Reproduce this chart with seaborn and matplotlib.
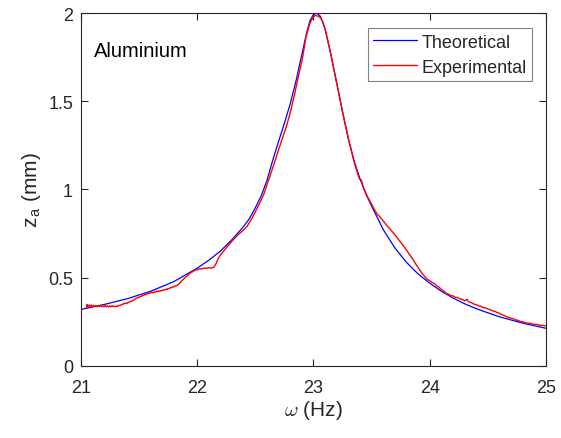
import matplotlib
matplotlib.use("Agg")
import matplotlib.pyplot as plt
import seaborn as sns
import pandas as pd

# Theoretical curve
theo_freq = [21.0, 21.2, 21.4, 21.6, 21.8, 22.0, 22.1, 22.2, 22.3, 22.4,
             22.45, 22.5, 22.55, 22.6, 22.65, 22.7, 22.75, 22.8, 22.85, 22.9,
             22.94, 22.97, 23.0, 23.03, 23.06, 23.1, 23.15, 23.2, 23.25, 23.3,
             23.35, 23.4, 23.45, 23.5, 23.6, 23.7, 23.8, 23.9, 24.0, 24.1,
             24.2, 24.3, 24.4, 24.6, 24.8, 25.0]
theo_amp = [0.319, 0.347, 0.380, 0.422, 0.477, 0.553, 0.598, 0.650, 0.715, 0.790,
            0.835, 0.895, 0.962, 1.050, 1.165, 1.272, 1.375, 1.485, 1.615, 1.765,
            1.885, 1.958, 1.992, 2.000, 1.982, 1.912, 1.765, 1.603, 1.440, 1.288,
            1.160, 1.060, 0.975, 0.905, 0.772, 0.668, 0.586, 0.520, 0.468, 0.422,
            0.384, 0.351, 0.323, 0.277, 0.241, 0.212]

# Experimental curve
exp_freq = [21.050, 21.055, 21.060, 21.070, 21.080, 21.090, 21.100, 21.110, 21.120, 21.130,
            21.140, 21.150, 21.160, 21.170, 21.180, 21.190, 21.200, 21.210, 21.220, 21.230,
            21.240, 21.250, 21.260, 21.270, 21.280, 21.290, 21.300, 21.310, 21.320, 21.330,
            21.340, 21.350, 21.360, 21.370, 21.380, 21.390, 21.400, 21.410, 21.420, 21.430,
            21.44, 21.45, 21.46, 21.47, 21.48, 21.49, 21.50, 21.51, 21.52, 21.53,
            21.54, 21.55, 21.56, 21.57, 21.58, 21.59, 21.60, 21.61, 21.62, 21.63,
            21.64, 21.65, 21.66, 21.67, 21.68, 21.69, 21.70, 21.71, 21.72, 21.73,
            21.74, 21.75, 21.76, 21.77, 21.78, 21.79, 21.80, 21.81, 21.82, 21.83,
            21.84, 21.85, 21.86, 21.87, 21.88, 21.89, 21.90, 21.91, 21.92, 21.93,
            21.94, 21.95, 21.96, 21.97, 21.98, 21.99, 22.00, 22.02, 22.04, 22.06,
            22.08, 22.10, 22.12, 22.144, 22.16, 22.18, 22.20, 22.24, 22.288, 22.33,
            22.36, 22.40, 22.431, 22.47, 22.50, 22.54, 22.573, 22.60, 22.64, 22.674,
            22.72, 22.768, 22.80, 22.84, 22.87, 22.903, 22.937, 22.97, 23.00, 23.017,
            23.04, 23.06, 23.08, 23.10, 23.15, 23.20, 23.25, 23.30, 23.35, 23.38,
            23.395, 23.41, 23.43, 23.46, 23.50, 23.53, 23.55, 23.57, 23.60, 23.63,
            23.66, 23.70, 23.75, 23.775, 23.80, 23.85, 23.89, 23.93, 23.976, 24.00,
            24.02, 24.04, 24.06, 24.08, 24.10, 24.12, 24.14, 24.16, 24.18, 24.20,
            24.22, 24.24, 24.26, 24.28, 24.30, 24.31, 24.32, 24.33, 24.36, 24.38,
            24.40, 24.42, 24.44, 24.46, 24.48, 24.50, 24.52, 24.54, 24.56, 24.58,
            24.60, 24.62, 24.64, 24.66, 24.68, 24.70, 24.72, 24.74, 24.76, 24.78,
            24.80, 24.83, 24.86, 24.89, 24.92, 24.95, 24.98, 25.00]
exp_amp = [0.330, 0.347, 0.334, 0.344, 0.336, 0.345, 0.335, 0.343, 0.336, 0.342,
           0.334, 0.341, 0.336, 0.343, 0.335, 0.340, 0.334, 0.341, 0.335, 0.340,
           0.333, 0.339, 0.334, 0.341, 0.335, 0.338, 0.333, 0.339, 0.337, 0.343,
           0.341, 0.348, 0.346, 0.354, 0.352, 0.356, 0.353, 0.360, 0.361, 0.366,
           0.366, 0.372, 0.373, 0.381, 0.382, 0.388, 0.387, 0.393, 0.392, 0.399,
           0.398, 0.404, 0.403, 0.409, 0.408, 0.414, 0.412, 0.417, 0.413, 0.419,
           0.417, 0.423, 0.420, 0.425, 0.421, 0.427, 0.425, 0.431, 0.429, 0.434,
           0.432, 0.438, 0.437, 0.443, 0.442, 0.448, 0.447, 0.453, 0.452, 0.458,
           0.460, 0.468, 0.474, 0.484, 0.488, 0.496, 0.501, 0.508, 0.512, 0.521,
           0.524, 0.531, 0.532, 0.538, 0.539, 0.545, 0.543, 0.550, 0.549, 0.554,
           0.552, 0.556, 0.554, 0.558, 0.575, 0.605, 0.628, 0.660, 0.698, 0.728,
           0.748, 0.770, 0.792, 0.835, 0.872, 0.925, 0.972, 1.025, 1.105, 1.170,
           1.265, 1.358, 1.435, 1.547, 1.640, 1.736, 1.868, 1.945, 1.980, 1.987,
           1.983, 1.975, 1.952, 1.910, 1.765, 1.603, 1.440, 1.288, 1.155, 1.090,
           1.058, 1.055, 1.010, 0.965, 0.915, 0.878, 0.858, 0.845, 0.822, 0.796,
           0.774, 0.742, 0.700, 0.679, 0.655, 0.608, 0.566, 0.527, 0.491, 0.482,
           0.472, 0.466, 0.452, 0.445, 0.432, 0.424, 0.410, 0.406, 0.398, 0.396,
           0.388, 0.387, 0.379, 0.376, 0.368, 0.372, 0.377, 0.364, 0.357, 0.349,
           0.346, 0.339, 0.337, 0.330, 0.328, 0.321, 0.318, 0.311, 0.308, 0.301,
           0.297, 0.289, 0.285, 0.277, 0.274, 0.268, 0.266, 0.259, 0.257, 0.250,
           0.249, 0.242, 0.241, 0.235, 0.234, 0.229, 0.228, 0.225]

x_ticks = [21, 22, 23, 24, 25]
y_ticks = [0, 0.5, 1, 1.5, 2]
y_tick_labels = ["0", "0.5", "1", "1.5", "2"]
series_names = ["Theoretical", "Experimental"]
series_colors = ["#0000FF", "#FF0000"]

sns.set_theme(style="white")
plt.rcParams["font.family"] = ["Liberation Sans", "DejaVu Sans"]
plt.rcParams["mathtext.fontset"] = "cm"

df_t = pd.DataFrame({"f": theo_freq, "z": theo_amp})
df_e = pd.DataFrame({"f": exp_freq, "z": exp_amp})

fig = plt.figure(figsize=(5.61, 4.39), dpi=100)
ax = fig.add_axes([80.7 / 561, 1 - 366.7 / 439, 465.5 / 561, 352.5 / 439])

sns.lineplot(data=df_t, x="f", y="z", ax=ax, color=series_colors[0], lw=0.9,
             estimator=None, sort=False, label=series_names[0])
sns.lineplot(data=df_e, x="f", y="z", ax=ax, color=series_colors[1], lw=1.0,
             estimator=None, sort=False, label=series_names[1])

ax.set_xlim(21, 25)
ax.set_ylim(0, 2)
ax.set_xticks(x_ticks)
ax.set_xticklabels([str(t) for t in x_ticks])
ax.set_yticks(y_ticks)
ax.set_yticklabels(y_tick_labels)

axis_col = "#262626"
for s in ax.spines.values():
    s.set_visible(True)
    s.set_color(axis_col)
    s.set_linewidth(0.8)
ax.tick_params(direction="in", length=5, width=0.8, colors=axis_col,
               labelsize=13, top=True, right=True, bottom=True, left=True)
ax.tick_params(axis="x", pad=9.5)
ax.tick_params(axis="y", pad=5.5)

ax.set_xlabel(r"$\omega$ (Hz)", fontsize=15, color=axis_col, labelpad=1.5)
ax.set_ylabel(r"z$_\mathregular{a}$ (mm)", fontsize=15, color=axis_col, labelpad=4)

ax.text(0.0286, 0.8956, "Aluminium", transform=ax.transAxes, fontsize=14.5,
        color="black", ha="left", va="center")

leg = ax.legend(loc="upper right", bbox_to_anchor=(0.970, 0.9587), fontsize=13,
                frameon=True, fancybox=False, edgecolor="#808080", framealpha=1,
                handlelength=2.4, handletextpad=0.25, borderpad=0.32,
                labelspacing=0.45, borderaxespad=0.0)
leg.get_frame().set_linewidth(0.8)

fig.savefig("out.png", dpi=100)
